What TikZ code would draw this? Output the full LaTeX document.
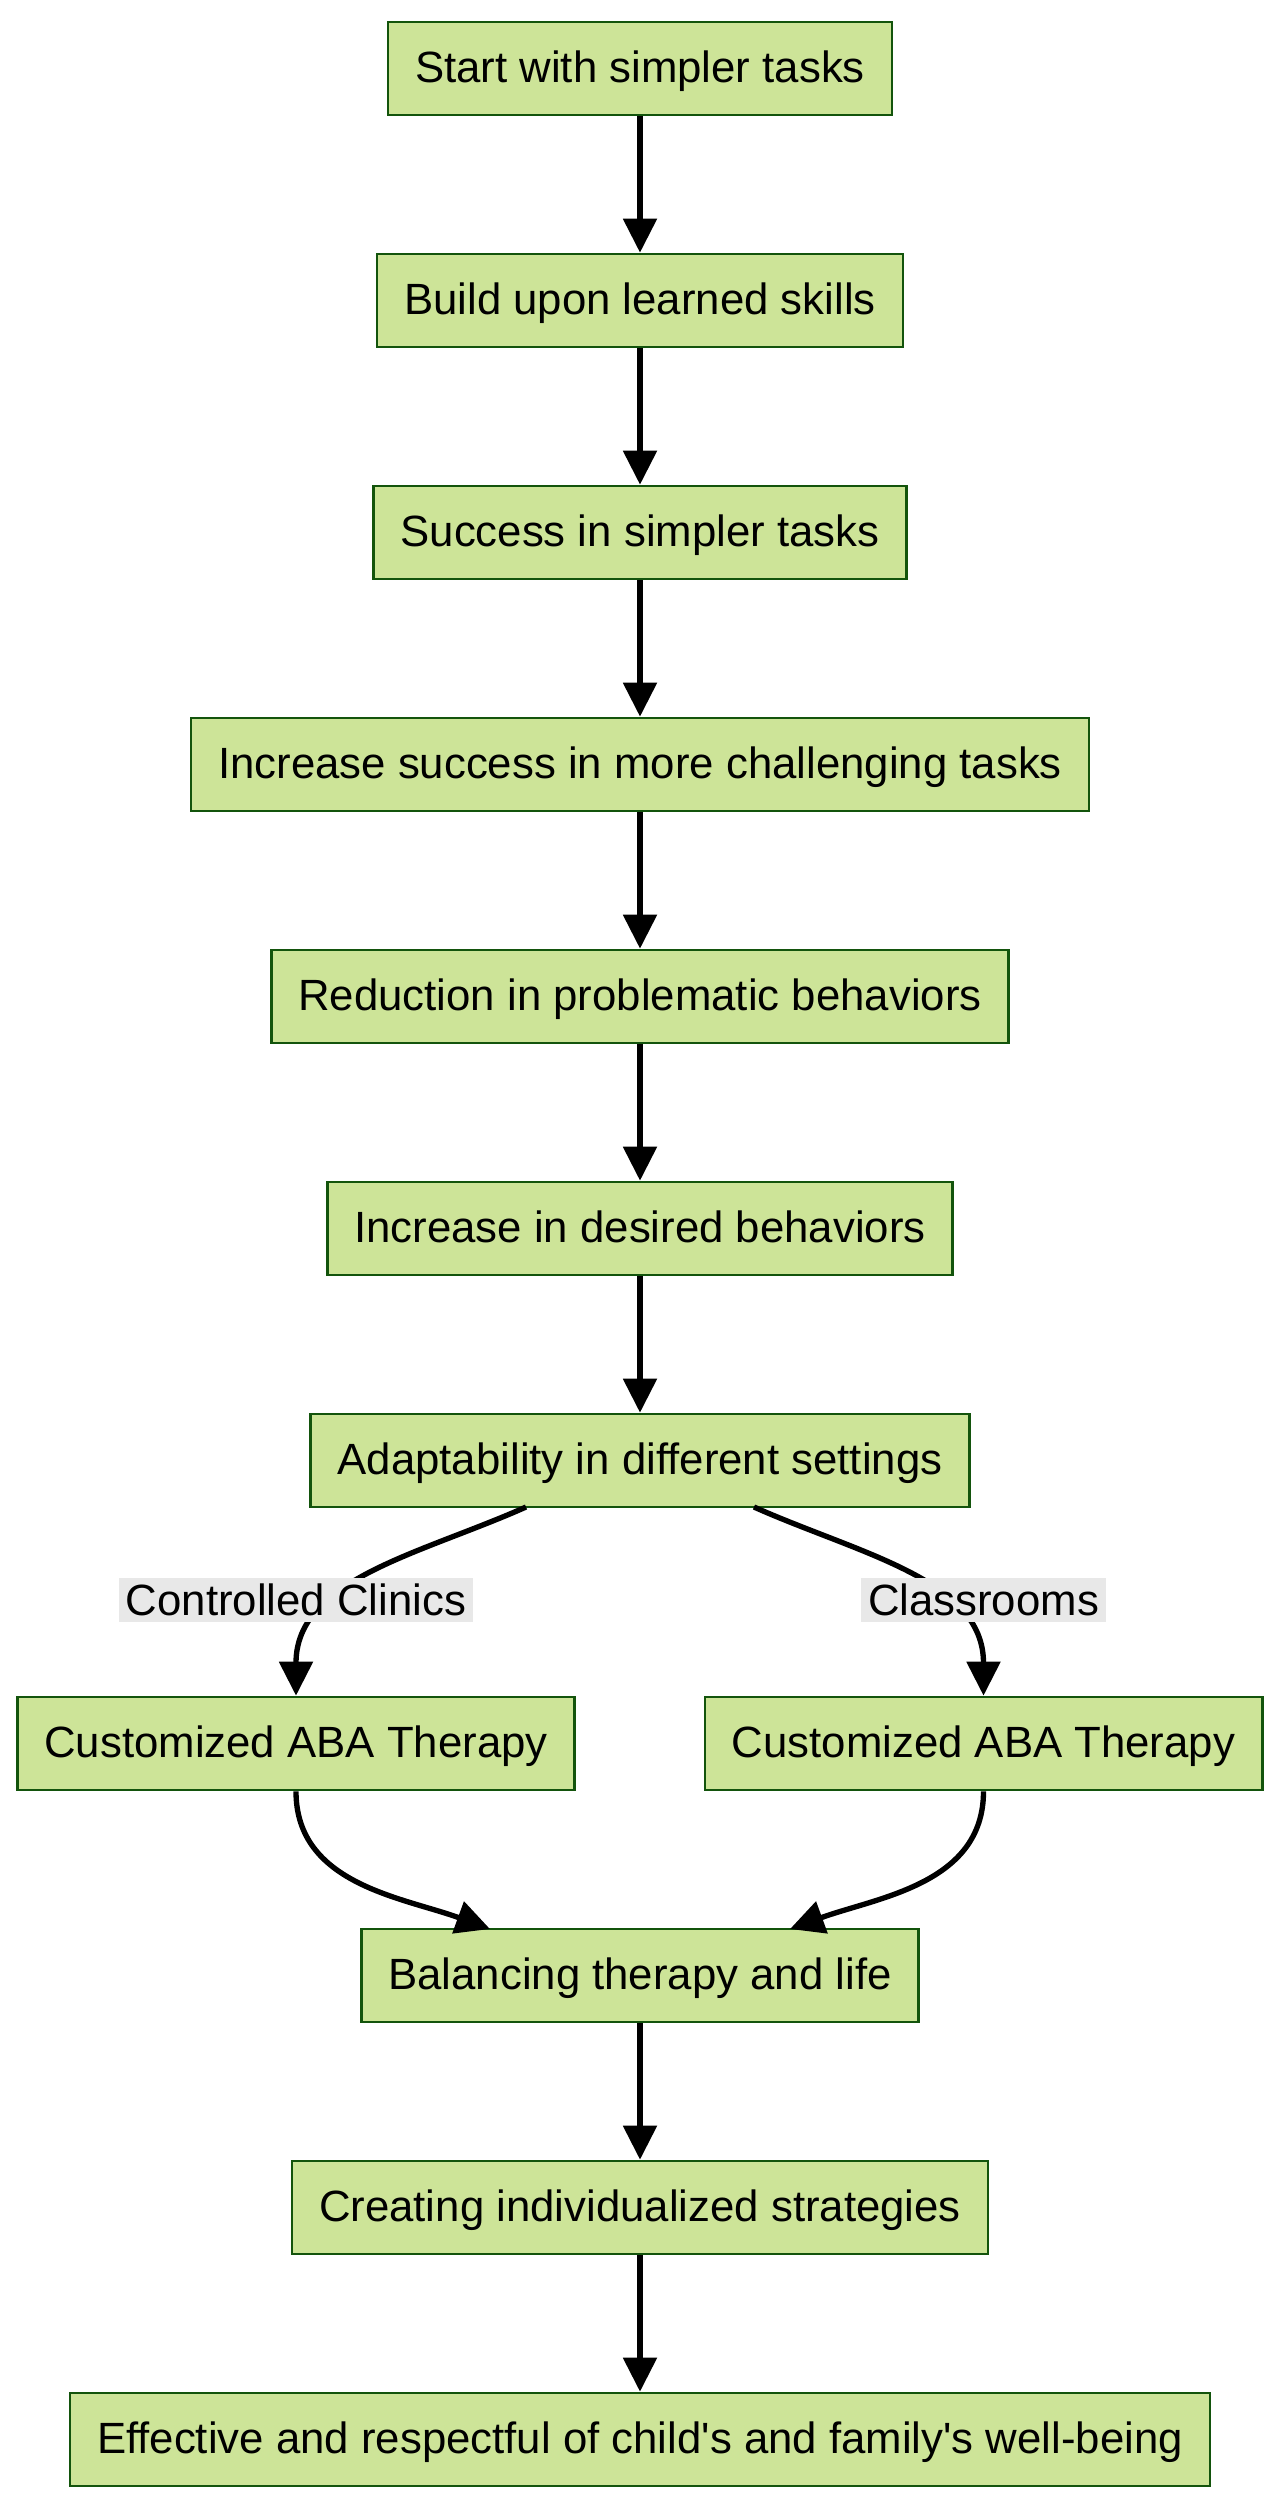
\documentclass[tikz,border=0pt]{standalone}
\usepackage{fontspec}
\setmainfont{Liberation Sans}
\usetikzlibrary{arrows.meta}
\definecolor{boxfill}{HTML}{CDE498}
\definecolor{boxline}{HTML}{13540C}
\definecolor{labelfill}{HTML}{E8E8E8}
\begin{document}
\begin{tikzpicture}[x=0.02cm,y=-0.02cm,
    box/.style={draw=boxline,fill=boxfill,line width=0.054cm,minimum height=1.86cm,inner xsep=0.54cm,inner ysep=0pt,text height=0.68cm,text depth=0.14cm,font=\fontsize{24.9}{29}\selectfont},
    arr/.style={line width=0.107cm,-{Triangle[length=0.68cm,width=0.66cm]}},
    lbl/.style={fill=labelfill,inner xsep=0.14cm,inner ysep=0pt,minimum height=0.88cm,text height=0.66cm,text depth=0.06cm,font=\fontsize{24.9}{29}\selectfont}]
        \useasboundingbox (0,0) rectangle (1280,2509);
        %boxes
        \node[box] (start) at (640,68.5) {Start with simpler tasks};
        \node[box] (build) at (640,300.5) {Build upon learned skills};
        \node[box] (simple) at (640,532.5) {Success in simpler tasks};
        \node[box] (hard) at (640,764.5) {Increase success in more challenging tasks};
        \node[box] (reduce) at (640,996.5) {Reduction in problematic behaviors};
        \node[box] (desired) at (640,1228.5) {Increase in desired behaviors};
        \node[box] (adapt) at (640,1460.5) {Adaptability in different settings};
        \node[box] (abaleft) at (296,1743.5) {Customized ABA Therapy};
        \node[box] (abaright) at (983.5,1743.5) {Customized ABA Therapy};
        \node[box] (balance) at (640,1975.5) {Balancing therapy and life};
        \node[box] (strat) at (640,2207.5) {Creating individualized strategies};
        \node[box] (wellbeing) at (640,2439.5) {Effective and respectful of child\textquotesingle s and family\textquotesingle s well-being};
        %free ends of the curved arrows
        \coordinate (adaptl) at (526,1507);
        \coordinate (adaptr) at (754,1507);
        \coordinate (balancel) at (490,1929);
        \coordinate (balancer) at (790,1929);
        %straight arrows
        \draw[arr] (start) -- (build);
        \draw[arr] (build) -- (simple);
        \draw[arr] (simple) -- (hard);
        \draw[arr] (hard) -- (reduce);
        \draw[arr] (reduce) -- (desired);
        \draw[arr] (desired) -- (adapt);
        \draw[arr] (balance) -- (strat);
        \draw[arr] (strat) -- (wellbeing);
        %curved arrows
        \draw[arr] (adaptl) to[out=-156,in=90] (abaleft.north);
        \draw[arr] (adaptr) to[out=-24,in=90] (abaright.north);
        \draw[arr] (abaleft.south) to[out=-90,in=160] (balancel);
        \draw[arr] (abaright.south) to[out=-90,in=20] (balancer);
        %edge labels
        \node[lbl] (clinics) at (296,1600) {Controlled Clinics};
        \node[lbl] (classrooms) at (983.5,1600) {Classrooms};
\end{tikzpicture}
\end{document}
